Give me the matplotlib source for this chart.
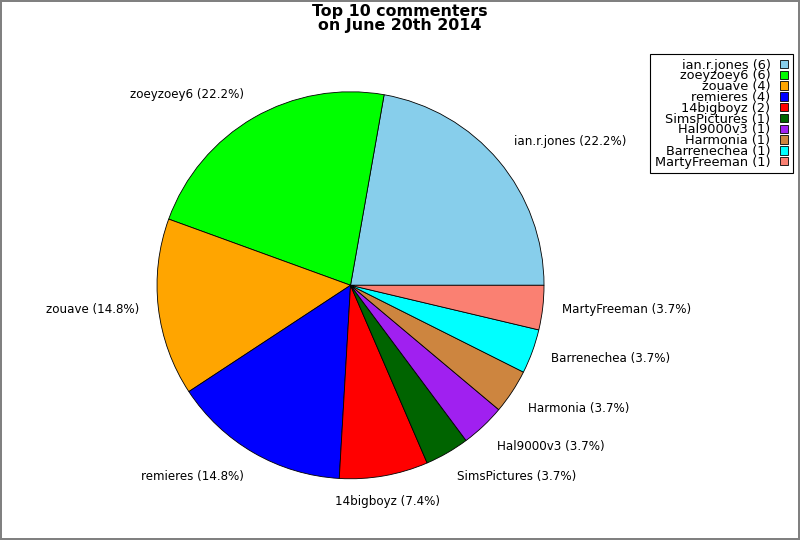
import math
import matplotlib
matplotlib.use("Agg")
import matplotlib.pyplot as plt

names = ["ian.r.jones", "zoeyzoey6", "zouave", "remieres", "14bigboyz",
         "SimsPictures", "Hal9000v3", "Harmonia", "Barrenechea", "MartyFreeman"]
counts = [6, 6, 4, 4, 2, 1, 1, 1, 1, 1]
colors = ["#87CEEB", "#00FF00", "#FFA500", "#0000FF", "#FF0000",
          "#006400", "#A020F0", "#CD853F", "#00FFFF", "#FA8072"]

total = sum(counts)
pie_labels = ["%s (%.1f%%)" % (n, 100.0 * c / total) for n, c in zip(names, counts)]
legend_labels = ["%s (%d)" % (n, c) for n, c in zip(names, counts)]

fig = plt.figure(figsize=(8, 5.4), dpi=100)
fig.patch.set_edgecolor("#808080")
fig.patch.set_linewidth(1.5)

# pie() pads limits to +-1.25, so axes box is 1.25x the pie diameter
ax = fig.add_axes([0.1358, 0.0238, 0.6047, 0.8958])
wedges, texts = ax.pie(counts, labels=pie_labels, colors=colors, startangle=0,
                       counterclock=True, labeldistance=1.1,
                       wedgeprops={"edgecolor": "black", "linewidth": 0.6},
                       textprops={"fontsize": 8.6})
ax.set_aspect("equal")

# labels sit outside the anchor point, except near the axes
for w, t in zip(wedges, texts):
    a = math.radians((w.theta1 + w.theta2) / 2)
    c, s = math.cos(a), math.sin(a)
    if abs(c) < 0.25:
        t.set_ha("center")
    if abs(s) >= 0.45:
        t.set_va("bottom" if s > 0 else "top")

fig.suptitle("Top 10 commenters\non June 20th 2014", fontsize=11.4,
             fontweight="bold", y=0.992, linespacing=0.9)

leg = fig.legend(wedges, legend_labels, loc="upper right",
                 bbox_to_anchor=(0.991, 0.9), fontsize=9.3, markerfirst=False,
                 fancybox=False, framealpha=1, edgecolor="black",
                 labelspacing=-0.17, handlelength=0.62, handleheight=0.62,
                 handletextpad=0.75, borderpad=0.35, borderaxespad=0)
for t in leg.get_texts():
    t.set_ha("right")
leg.get_frame().set_linewidth(0.8)

fig.savefig("out.png", dpi=100, edgecolor=fig.get_edgecolor())
